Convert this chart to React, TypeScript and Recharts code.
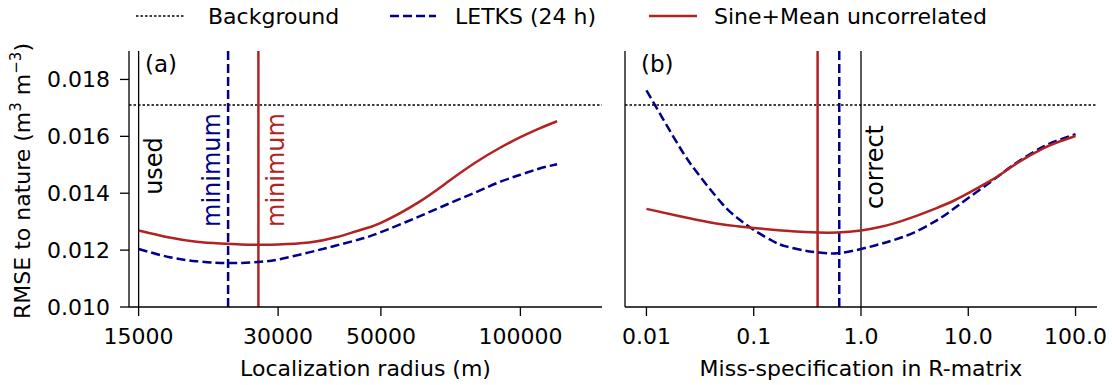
import { LineChart, Line, XAxis, YAxis, ReferenceLine } from "recharts"

// panel (a): localization radius sweep
const radius = [15000, 17500, 20000, 22500, 25000, 27500, 30000, 35000, 40000, 45000, 50000, 60000, 70000, 80000, 90000, 100000, 110000, 120000]
const radiusLetks = [0.01204, 0.01175, 0.01161, 0.01155, 0.01155, 0.01159, 0.01167, 0.01192, 0.01216, 0.01238, 0.01263, 0.01316, 0.01363, 0.01403, 0.01439, 0.01465, 0.01487, 0.01502]
const radiusSine = [0.01269, 0.01244, 0.01229, 0.01223, 0.0122, 0.01219, 0.0122, 0.01227, 0.01245, 0.0127, 0.01296, 0.01366, 0.01442, 0.01508, 0.01558, 0.01597, 0.01628, 0.01653]
const radiusTicks = [15000, 30000, 50000, 100000]

// panel (b): R-matrix miss-specification sweep
const factor = [0.01, 0.02, 0.03, 0.05, 0.07, 0.1, 0.15, 0.2, 0.3, 0.4, 0.6, 1, 1.5, 2, 3, 5, 7, 10, 15, 20, 30, 50, 70, 100]
const factorLetks = [0.01762, 0.01567, 0.0147, 0.01366, 0.01314, 0.01271, 0.01232, 0.01213, 0.01198, 0.01192, 0.01189, 0.01204, 0.01221, 0.01235, 0.01259, 0.01303, 0.0134, 0.01383, 0.01431, 0.01466, 0.01514, 0.01564, 0.01587, 0.01608]
const factorSine = [0.01345, 0.0132, 0.01306, 0.01291, 0.01284, 0.01278, 0.01272, 0.01268, 0.01264, 0.01262, 0.01262, 0.01269, 0.01281, 0.01293, 0.01315, 0.01347, 0.0137, 0.014, 0.01437, 0.01466, 0.01511, 0.01558, 0.01581, 0.01601]
const factorTicks = [0.01, 0.1, 1, 10, 100]
const factorTickLabels = ["0.01", "0.1", "1.0", "10.0", "100.0"]

const rmseTicks = [0.01, 0.012, 0.014, 0.016, 0.018]
const backgroundRmse = 0.0171

const usedRadius = 15000
const letksBestRadius = 23400
const sineBestRadius = 27200
const correctFactor = 1
const letksBestFactor = 0.627
const sineBestFactor = 0.394

const NAVY = "#00008b"
const RED = "#b22222"
const FONT = "DejaVu Sans"

const radiusData = radius.map((x, i) => ({ x, letks: radiusLetks[i], sine: radiusSine[i] }))
const factorData = factor.map((x, i) => ({ x, letks: factorLetks[i], sine: factorSine[i] }))

const tickStyle = { fill: "#000", fontSize: 22, fontFamily: FONT }
const axisStroke = { stroke: "#000", strokeWidth: 1.3 }

function VLabel(props: any) {
  const { viewBox, text, dx, cy, color } = props
  const x = (viewBox?.x ?? 0) + dx
  return (
    <text
      x={x}
      y={cy}
      transform={`rotate(-90 ${x} ${cy})`}
      textAnchor="middle"
      fill={color}
      fontSize={24}
      fontFamily={FONT}
    >
      {text}
    </text>
  )
}

function Legend() {
  return (
    <g fontFamily={FONT} fontSize={22} fill="#000">
      <line x1={136} x2={184} y1={16} y2={16} stroke="#000" strokeWidth={1.6} strokeDasharray="2.5 2" />
      <text x={208} y={24}>Background</text>
      <line x1={390} x2={436} y1={16} y2={16} stroke={NAVY} strokeWidth={2.5} strokeDasharray="9 4" />
      <text x={455} y={24}>LETKS (24 h)</text>
      <line x1={649} x2={697} y1={16} y2={16} stroke={RED} strokeWidth={2.5} />
      <text x={714} y={24}>Sine+Mean uncorrelated</text>
    </g>
  )
}

export default function App() {
  return (
    <div style={{ position: "fixed", left: 0, top: 0, width: 1112, height: 385, background: "#fff" }}>
      <LineChart
        width={620}
        height={385}
        data={radiusData}
        margin={{ top: 51, right: 18, left: 0, bottom: 0 }}
        style={{ position: "absolute", left: 0, top: 0 }}
      >
        <XAxis
          dataKey="x"
          type="number"
          scale="log"
          domain={[14300, 150000]}
          allowDataOverflow
          ticks={radiusTicks}
          tickFormatter={(v: number) => String(v)}
          height={78}
          tickSize={9}
          tickMargin={12}
          axisLine={axisStroke}
          tickLine={axisStroke}
          tick={tickStyle}
          label={{ value: "Localization radius (m)", position: "insideBottom", offset: 9, fill: "#000", fontSize: 22, fontFamily: FONT }}
        />
        <YAxis
          type="number"
          domain={[0.01, 0.019]}
          allowDataOverflow
          ticks={rmseTicks}
          tickFormatter={(v: number) => v.toFixed(3)}
          width={129}
          tickSize={9}
          tickMargin={10}
          axisLine={axisStroke}
          tickLine={axisStroke}
          tick={tickStyle}
        />
        <ReferenceLine y={backgroundRmse} stroke="#000" strokeWidth={1.6} strokeDasharray="2.5 2" />
        <ReferenceLine x={usedRadius} stroke="#000" strokeWidth={1.3} label={<VLabel text="used" dx={23} cy={166} color="#000" />} />
        <ReferenceLine x={letksBestRadius} stroke={NAVY} strokeWidth={2.5} strokeDasharray="9 4" label={<VLabel text="minimum" dx={-8} cy={170} color={NAVY} />} />
        <ReferenceLine x={sineBestRadius} stroke={RED} strokeWidth={2.5} label={<VLabel text="minimum" dx={25.5} cy={170} color={RED} />} />
        <Line dataKey="letks" type="natural" stroke={NAVY} strokeWidth={2.5} strokeDasharray="9 4" dot={false} isAnimationActive={false} />
        <Line dataKey="sine" type="natural" stroke={RED} strokeWidth={2.5} dot={false} isAnimationActive={false} />
      </LineChart>

      <LineChart
        width={492}
        height={385}
        data={factorData}
        margin={{ top: 51, right: 15, left: 0, bottom: 0 }}
        style={{ position: "absolute", left: 620, top: 0 }}
      >
        <XAxis
          dataKey="x"
          type="number"
          scale="log"
          domain={[0.00631, 158.5]}
          allowDataOverflow
          ticks={factorTicks}
          tickFormatter={(v: number) => factorTickLabels[factorTicks.indexOf(v)] ?? String(v)}
          height={78}
          tickSize={9}
          tickMargin={12}
          axisLine={axisStroke}
          tickLine={axisStroke}
          tick={tickStyle}
          label={{ value: "Miss-specification in R-matrix", position: "insideBottom", offset: 9, fill: "#000", fontSize: 22, fontFamily: FONT }}
        />
        <YAxis
          type="number"
          domain={[0.01, 0.019]}
          allowDataOverflow
          ticks={rmseTicks}
          width={5}
          tick={false}
          tickLine={false}
          axisLine={axisStroke}
        />
        <ReferenceLine y={backgroundRmse} stroke="#000" strokeWidth={1.6} strokeDasharray="2.5 2" />
        <ReferenceLine x={correctFactor} stroke="#000" strokeWidth={1.3} label={<VLabel text="correct" dx={22} cy={167} color="#000" />} />
        <ReferenceLine x={letksBestFactor} stroke={NAVY} strokeWidth={2.5} strokeDasharray="9 4" />
        <ReferenceLine x={sineBestFactor} stroke={RED} strokeWidth={2.5} />
        <Line dataKey="letks" type="natural" stroke={NAVY} strokeWidth={2.5} strokeDasharray="9 4" dot={false} isAnimationActive={false} />
        <Line dataKey="sine" type="natural" stroke={RED} strokeWidth={2.5} dot={false} isAnimationActive={false} />
      </LineChart>

      <svg width={1112} height={385} style={{ position: "absolute", left: 0, top: 0, pointerEvents: "none" }}>
        <Legend />
        <text x={145} y={72} fontFamily={FONT} fontSize={23} fill="#000">(a)</text>
        <text x={641} y={72} fontFamily={FONT} fontSize={23} fill="#000">(b)</text>
        <text
          x={29.5}
          y={181}
          transform="rotate(-90 29.5 181)"
          textAnchor="middle"
          fontFamily={FONT}
          fontSize={22}
          fill="#000"
        >
          RMSE to nature (m
          <tspan fontSize={15} dy={-9}>3</tspan>
          <tspan dy={9}> m</tspan>
          <tspan fontSize={15} dy={-9}>−3</tspan>
          <tspan dy={9}>)</tspan>
        </text>
      </svg>
    </div>
  )
}
